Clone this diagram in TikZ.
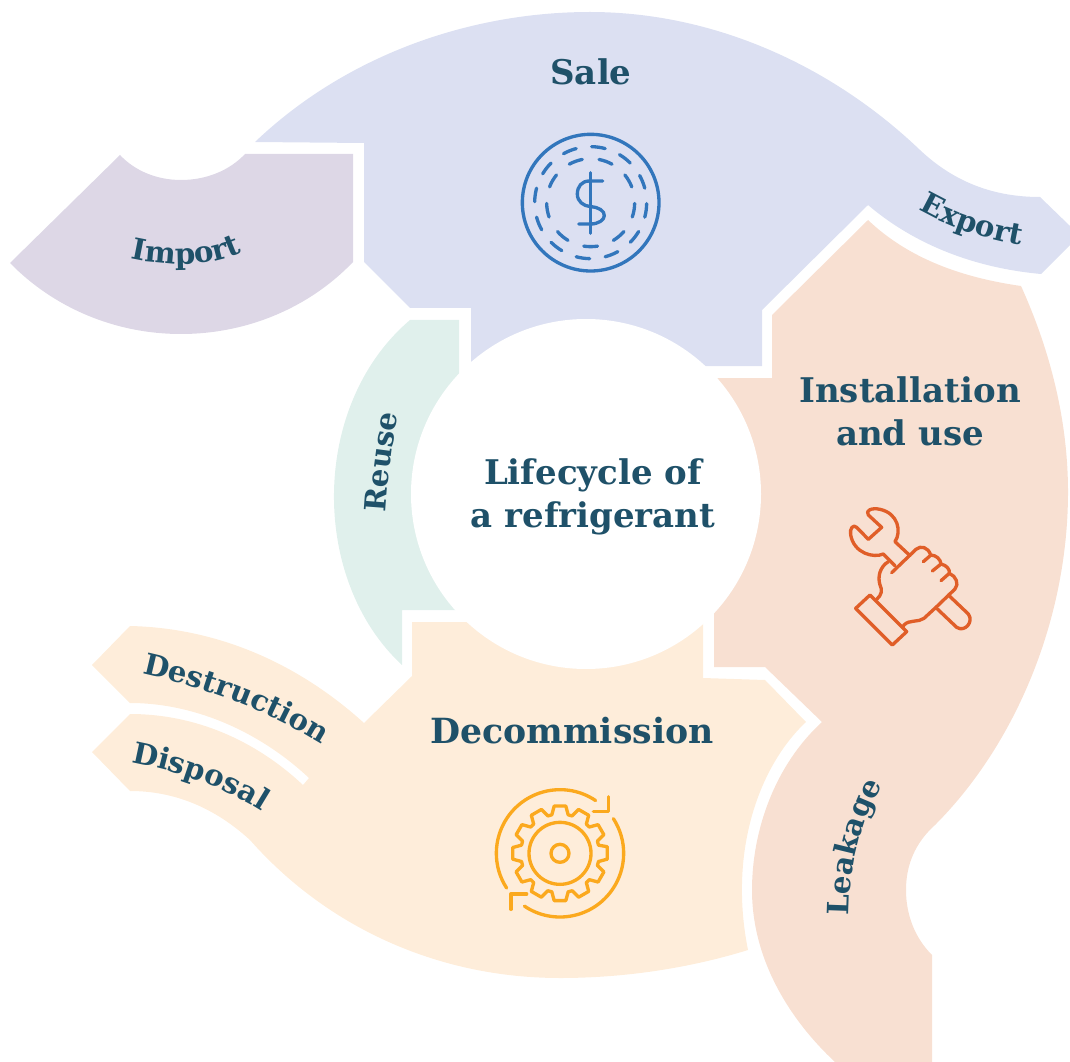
\documentclass[tikz,border=0pt]{standalone}
\usepackage{fontspec}
\usetikzlibrary{decorations.text}
\setmainfont{DejaVu Serif}
\definecolor{saleC}{HTML}{DCE0F2}
\definecolor{importC}{HTML}{DDD7E6}
\definecolor{reuseC}{HTML}{E0F0EC}
\definecolor{installC}{HTML}{F8E0D2}
\definecolor{decomC}{HTML}{FEEDDA}
\definecolor{inkC}{HTML}{1F5169}
\definecolor{coinC}{HTML}{3276BC}
\definecolor{wrenchC}{HTML}{E05E28}
\definecolor{gearC}{HTML}{FBA91E}
\newcommand{\smalltext}[1]{|\color{inkC}\bfseries\fontsize{22}{26}\selectfont|#1}
\tikzset{
  big/.style={text=inkC,font=\bfseries\fontsize{25.5}{32}\selectfont,align=center,inner sep=0pt},
  curved/.style={decorate,decoration={text along path,text align=center,text={#1}}},
  icon/.style={line width=2.5pt,line cap=round,line join=round},
  zoomed/.style={shift={#1},scale=0.33333}
}
\begin{document}
\begin{tikzpicture}[x=0.75pt,y=-0.75pt]
\useasboundingbox (0,0) rectangle (1070,1062);
% Sale
\fill[saleC] (255,142) .. controls (344,57) and (467,12) .. (590,12)
  .. controls (713,12) and (831,65) .. (920,150)
  .. controls (955,183) and (995,197) .. (1040,197)
  -- (1070,226) -- (1070,245) -- (1041,274)
  .. controls (975,268) and (915,245) .. (868,205)
  -- (762,310) -- (762,366) -- (690,366) -- (490,366) -- (471,366) -- (471,308) -- (410,308)
  -- (364,262) -- (364,143) -- cycle;
% Import
\fill[importC] (120,155) .. controls (135,171) and (157,180) .. (181,180)
  .. controls (207,180) and (230,170) .. (245,154)
  -- (353,154) -- (353,262)
  .. controls (310,307) and (248,334) .. (181,334)
  .. controls (114,334) and (53,307) .. (10,263) -- cycle;
% Reuse
\fill[reuseC] (410,320) -- (459,320) -- (459,400) -- (470,610) -- (402,610) -- (402,665)
  .. controls (310,580) and (310,405) .. (410,320) -- cycle;
% Installation and use
\fill[installC] (868,220) .. controls (910,260) and (965,278) .. (1021,286)
  .. controls (1050,350) and (1068,420) .. (1068,492)
  .. controls (1068,620) and (1015,745) .. (935,825)
  .. controls (915,843) and (906,865) .. (906,890)
  .. controls (906,915) and (915,938) .. (932,955)
  -- (932,1062) -- (835,1062)
  .. controls (790,1020) and (752,960) .. (752,890)
  .. controls (752,830) and (775,765) .. (822,722)
  -- (765,667) -- (714,667) -- (714,600) -- (700,400) -- (718,378) -- (772,378) -- (772,315) -- cycle;
% Decommission
\fill[decomC] (412,622) -- (703,622) -- (703,678) -- (765,680) -- (806,722)
  .. controls (760,765) and (728,850) .. (748,950)
  .. controls (690,968) and (625,978) .. (560,978)
  .. controls (435,978) and (325,925) .. (250,840)
  .. controls (215,808) and (175,791) .. (130,791)
  -- (92,752) -- (130,714)
  .. controls (195,714) and (255,740) .. (303,785)
  -- (309,778)
  .. controls (260,732) and (195,703) .. (130,703)
  -- (92,665) -- (130,626)
  .. controls (220,628) and (300,665) .. (364,723)
  -- (412,676) -- cycle;
% Centre
\fill[white] (586,494) circle [radius=175];
% Coin
\begin{scope}[zoomed={(500,120)},coinC,icon]
  \draw (272,248) circle [radius=205];
  \foreach \a in {0,30,...,330}
    \draw ([shift={(272,248)}]{\a-82-7}:168) arc [start angle=\a-82-7,end angle=\a-82+7,radius=168];
  \foreach \a in {0,40,...,320}
    \draw ([shift={(272,248)}]{\a-70-9}:132) arc [start angle=\a-70-9,end angle=\a-70+9,radius=132];
  \draw (272,158) -- (272,340);
  \draw (308,183) -- (268,183) .. controls (245,183) and (232,200) .. (232,222)
    .. controls (232,245) and (250,258) .. (272,260)
    .. controls (297,262) and (313,272) .. (313,287)
    .. controls (313,300) and (295,312) .. (272,312) -- (236,312);
\end{scope}
% Wrench
\begin{scope}[zoomed={(830,490)},wrenchC,icon]
  \draw (195,155) .. controls (215,125) and (205,70) .. (150,58)
    .. controls (125,52) and (105,62) .. (115,75) -- (155,112) -- (115,148) -- (80,112)
    .. controls (70,102) and (58,115) .. (62,135)
    .. controls (72,190) and (130,205) .. (160,192) -- (195,227);
  \draw (195,155) -- (240,197);
  \draw (185,248) -- (258,178) .. controls (272,165) and (295,172) .. (302,195)
    .. controls (318,195) and (332,208) .. (333,222)
    .. controls (350,226) and (360,238) .. (358,250)
    .. controls (378,258) and (388,282) .. (375,297)
    -- (320,350) -- (282,385) .. controls (265,398) and (238,388) .. (222,405) -- (218,412);
  \draw (280,215) -- (303,195);
  \draw (307,243) -- (333,222);
  \draw (333,272) -- (358,250);
  \draw (175,215) .. controls (150,230) and (142,260) .. (150,285)
    .. controls (158,300) and (155,315) .. (140,328);
  \draw (120,315) -- (230,425) -- (187,465) -- (77,355) -- cycle;
  \draw (355,315) -- (415,372) .. controls (432,395) and (405,428) .. (380,412) -- (320,355);
\end{scope}
% Gear
\begin{scope}[zoomed={(480,770)},gearC,icon]
  \coordinate (g) at (240,250);
  \draw (g) circle [radius=93];
  \draw (g) circle [radius=27];
  \draw ([shift={(240,250)}]-8:143)
    \foreach \a in {0,30,...,330} {
      -- ([shift={(240,250)}]{\a-7}:143) -- ([shift={(240,250)}]{\a+7}:143)
      -- ([shift={(240,250)}]{\a+12}:118) -- ([shift={(240,250)}]{\a+18}:118)
    } -- cycle;
  \draw ([shift={(240,250)}]-56:191) arc [start angle=-56,end angle=-213,radius=191];
  \draw ([shift={(240,250)}]124:191) arc [start angle=124,end angle=-33,radius=191];
  \draw (385,80) -- (385,125) -- (340,125);
  \draw (140,372) -- (93,372) -- (93,418);
\end{scope}
% Labels
\node[big] (sale) at (591,72) {Sale};
\node[big] (install) at (910,411) {Installation\\and use};
\node[big] (centre) at (593,497) {Lifecycle of\\a refrigerant};
\node[big,font=\bfseries\fontsize{26}{32}\selectfont] (decom) at (572,731) {Decommission};
\path[curved={\smalltext{Import}}] (128,258) .. controls (145,263) and (205,272) .. (245,251);
\path[curved={\smalltext{Export}}] (916,208) .. controls (935,220) and (975,238) .. (1024,246);
\path[curved={\smalltext{Reuse}}] (386,510) .. controls (388,480) and (391,450) .. (398,416);
\path[curved={\smalltext{Destruction}}] (147,675) .. controls (205,688) and (265,710) .. (318,742);
\path[curved={\smalltext{Disposal}}] (133,763) .. controls (175,771) and (220,785) .. (260,810);
\path[curved={\smalltext{Leakage}}] (849,912) .. controls (849,880) and (858,825) .. (881,788);
\end{tikzpicture}
\end{document}
